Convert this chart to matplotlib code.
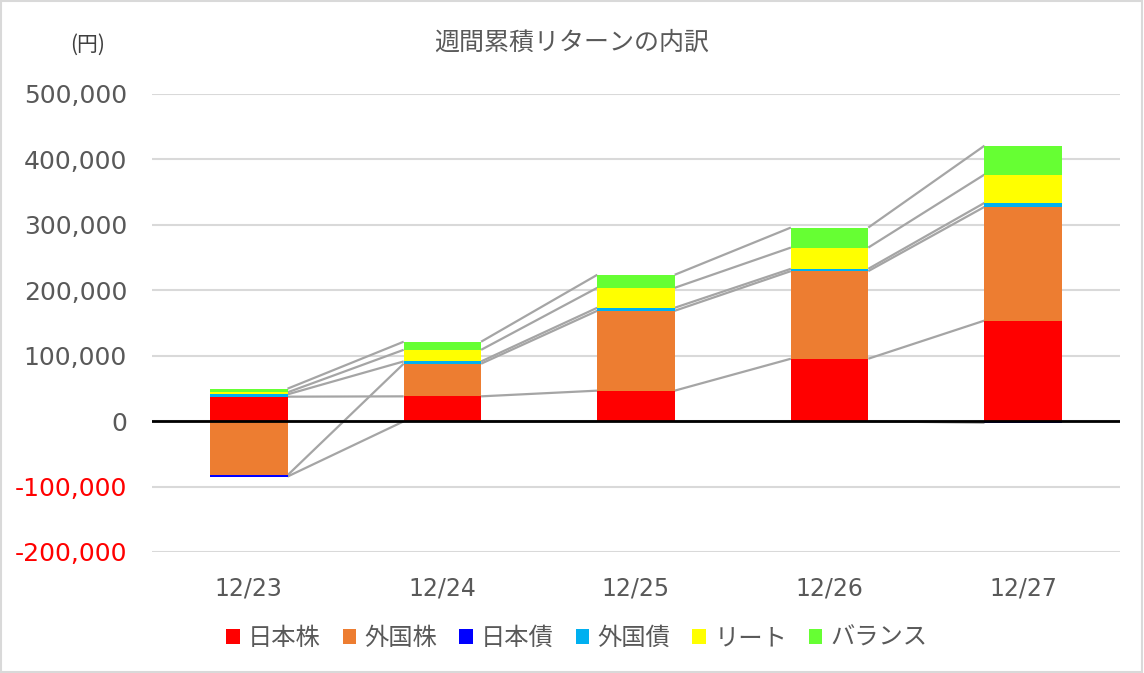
import matplotlib
matplotlib.use("Agg")
import matplotlib.pyplot as plt
from matplotlib.patches import Rectangle
import numpy as np

plt.rcParams['font.family'] = ['Noto Sans CJK JP', 'DejaVu Sans']

categories = ["12/23", "12/24", "12/25", "12/26", "12/27"]
series_names = ["日本株", "外国株", "日本債", "外国債", "リート", "バランス"]
jp_stock = [37400, 37900, 46600, 95400, 153700]
fx_stock = [-82700, 49900, 122100, 133900, 173800]
jp_bond = [-2000, -300, -200, -100, -2500]
fx_bond = [3500, 3500, 4600, 3500, 6100]
reit = [3100, 17700, 30500, 32500, 43300]
balance = [5600, 12400, 19900, 30600, 44100]
series_values = [jp_stock, fx_stock, jp_bond, fx_bond, reit, balance]
colors = ["#FF0000", "#ED7D31", "#0000FF", "#00B0F0", "#FFFF00", "#66FF33"]
yticks = [-200000, -100000, 0, 100000, 200000, 300000, 400000, 500000]

fig = plt.figure(figsize=(11.44, 6.73), dpi=100)
ax = fig.add_axes([152/1144, 1-552/673, (1120-152)/1144, (552-94)/673])

x = np.arange(len(categories))
width = 0.4
n = len(categories)
pos = np.zeros(n)
neg = np.zeros(n)
ends = []
for name, vals, col in zip(series_names, series_values, colors):
    vals = np.array(vals, dtype=float)
    bottoms = np.where(vals >= 0, pos, neg)
    ax.bar(x, vals, width=width, bottom=bottoms, color=col, label=name, zorder=2, linewidth=0)
    pos = np.where(vals >= 0, pos + vals, pos)
    neg = np.where(vals < 0, neg + vals, neg)
    ends.append(bottoms + vals)

# series lines
for e in ends:
    for i in range(n - 1):
        ax.plot([x[i] + width/2, x[i+1] - width/2], [e[i], e[i+1]],
                color="#A5A5A5", lw=1.6, zorder=1.5, solid_capstyle='butt')

ax.set_xlim(-0.5, n - 0.5)
ax.set_ylim(yticks[0], yticks[-1])
ax.set_yticks(yticks)
ax.set_yticklabels([f"{v:,}" for v in yticks], fontsize=18, family='DejaVu Sans')
for lbl, v in zip(ax.get_yticklabels(), yticks):
    lbl.set_color("#FF0000" if v < 0 else "#595959")
ax.set_xticks(x)
ax.set_xticklabels(categories, fontsize=17, color="#595959", family='DejaVu Sans')
ax.tick_params(axis='both', length=0)
ax.tick_params(axis='y', pad=18)
ax.tick_params(axis='x', pad=18)
ax.grid(axis='y', color="#D9D9D9", lw=1.5, zorder=0)
ax.set_axisbelow(True)
for s in ax.spines.values():
    s.set_visible(False)
ax.axhline(0, color="black", lw=2, zorder=3)

fig.text(0.5, 1-43/673, "週間累積リターンの内訳", ha='center', va='center', fontsize=18, color="#595959")
fig.text(88/1144, 1-45/673, "(円)", ha='center', va='center', fontsize=15, color="#404040")

leg = fig.legend(loc='center', bbox_to_anchor=(577/1144, 1-638/673), ncol=6, frameon=False,
                 fontsize=17.5, handlelength=0.55, handleheight=0.55, handletextpad=0.35,
                 columnspacing=0.9, labelcolor="#595959")

fig.add_artist(Rectangle((0.0005, 0.0008), 0.998, 0.998, transform=fig.transFigure,
                         fill=False, edgecolor="#D9D9D9", lw=1.5))

fig.savefig("out.png", dpi=100)
